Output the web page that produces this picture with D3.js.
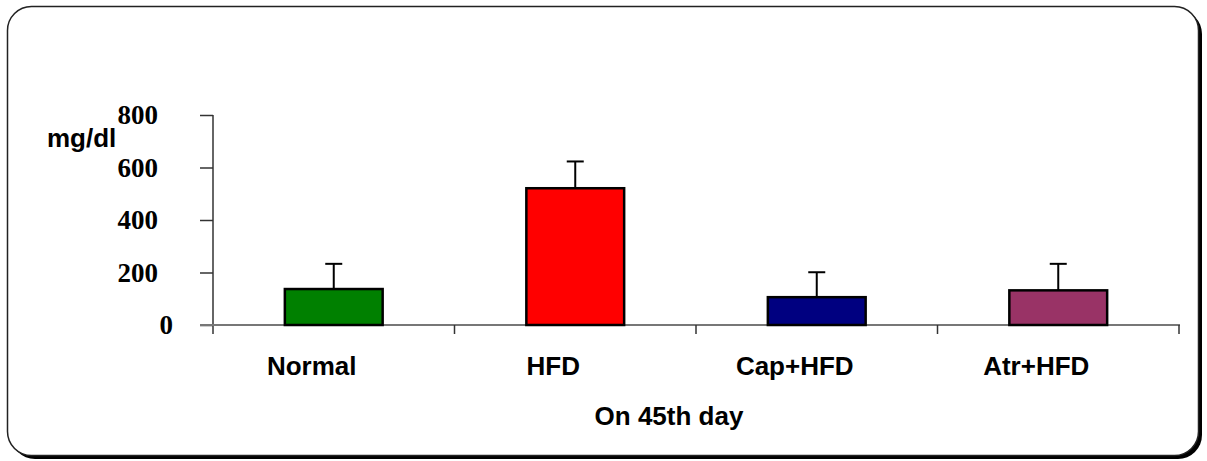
<!DOCTYPE html>
<html>
<head>
<meta charset="utf-8">
<script src="https://cdn.jsdelivr.net/npm/d3@7"></script>
<style>
  html, body { margin: 0; padding: 0; background: #fff; }
  svg { display: block; }
</style>
</head>
<body>
<svg id="chart" width="1207" height="461"></svg>
<script>
const categories = ["Normal", "HFD", "Cap+HFD", "Atr+HFD"];
const values = [137, 521, 106, 132];
const errors = [96, 102, 95, 101];
const colors = ["#008000", "#FF0000", "#000080", "#993366"];
const yTicks = [0, 200, 400, 600, 800];
const yLabel = "mg/dl";
const xTitle = "On 45th day";

const svg = d3.select("#chart");

// frame with shadow
svg.append("rect").attr("x", 11).attr("y", 10).attr("width", 1191).attr("height", 449)
  .attr("rx", 24).attr("ry", 24).attr("fill", "#000");
svg.append("rect").attr("x", 7.5).attr("y", 6.5).attr("width", 1191).attr("height", 449)
  .attr("rx", 24).attr("ry", 24).attr("fill", "#fff").attr("stroke", "#222").attr("stroke-width", 1.5);

const x = d3.scaleBand().domain(categories).range([213, 1179]).paddingInner(0.595).paddingOuter(0.2975);
const y = d3.scaleLinear().domain([0, 800]).range([325, 115]);

// y axis
const yAxis = svg.append("g").attr("transform", "translate(213,0)")
  .call(d3.axisLeft(y).tickValues(yTicks).tickSize(13).tickPadding(42));
yAxis.select(".domain").remove();
yAxis.selectAll(".tick line").attr("stroke", "#333").attr("stroke-width", 1.5);
yAxis.selectAll(".tick text")
  .attr("font-family", "'Liberation Serif', 'Times New Roman', serif")
  .attr("font-weight", "bold").attr("font-size", 27).attr("fill", "#000")
  .attr("dy", "0.33em")
  .attr("dx", d => d === 0 ? 15 : 0);
svg.append("line").attr("x1", 213).attr("x2", 213).attr("y1", 115).attr("y2", 334)
  .attr("stroke", "#333").attr("stroke-width", 1.5);

// x axis
svg.append("line").attr("x1", 200).attr("x2", 1180).attr("y1", 325).attr("y2", 325)
  .attr("stroke", "#777").attr("stroke-width", 2);
const step = x.step();
const bounds = d3.range(categories.length + 1).map(i => 213 + i * step);
svg.append("g").selectAll("line").data(bounds.slice(1)).join("line")
  .attr("x1", d => d).attr("x2", d => d).attr("y1", 325).attr("y2", 334)
  .attr("stroke", "#333").attr("stroke-width", 1.5);

// error bars
const eg = svg.append("g");
categories.forEach((c, i) => {
  const cx = x(c) + x.bandwidth() / 2;
  eg.append("line").attr("x1", cx).attr("x2", cx).attr("y1", y(values[i])).attr("y2", y(values[i] + errors[i]))
    .attr("stroke", "#000").attr("stroke-width", 2);
  eg.append("line").attr("x1", cx - 8.5).attr("x2", cx + 8.5).attr("y1", y(values[i] + errors[i])).attr("y2", y(values[i] + errors[i]))
    .attr("stroke", "#000").attr("stroke-width", 2);
});

// bars
svg.append("g").selectAll("rect").data(categories).join("rect")
  .attr("x", d => x(d))
  .attr("y", (d, i) => y(values[i]))
  .attr("width", x.bandwidth())
  .attr("height", (d, i) => y(0) - y(values[i]))
  .attr("fill", (d, i) => colors[i])
  .attr("stroke", "#000").attr("stroke-width", 2.5);

// category labels
svg.append("g").selectAll("text").data(categories).join("text")
  .attr("x", d => x(d) + x.bandwidth() / 2 - 22)
  .attr("y", 375)
  .attr("text-anchor", "middle")
  .attr("font-family", "'Liberation Sans', Arial, sans-serif")
  .attr("font-weight", "bold").attr("font-size", 26)
  .text(d => d);

// y label
svg.append("text").attr("x", 47).attr("y", 147)
  .attr("font-family", "'Liberation Sans', Arial, sans-serif")
  .attr("font-weight", "bold").attr("font-size", 26)
  .text(yLabel);

// x title
svg.append("text").attr("x", 669).attr("y", 425).attr("text-anchor", "middle")
  .attr("font-family", "'Liberation Sans', Arial, sans-serif")
  .attr("font-weight", "bold").attr("font-size", 26)
  .text(xTitle);
</script>
</body>
</html>
